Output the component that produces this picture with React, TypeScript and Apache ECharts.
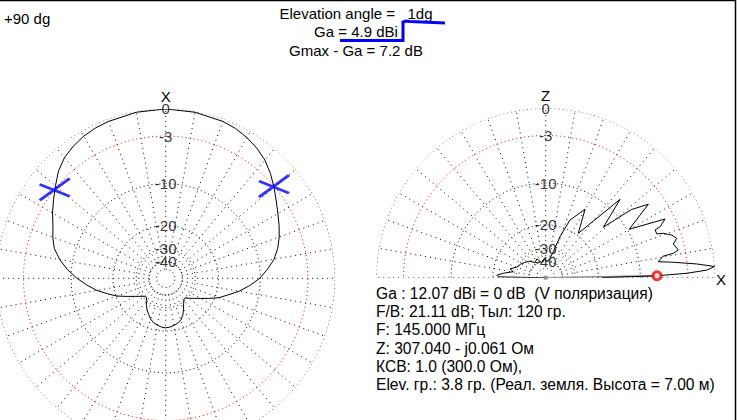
import React, { useEffect, useRef } from "react";
import * as echarts from "echarts";

// Ring levels (dB) of the ARRL log scale and their labels
const RING_DB = [0, -3, -10, -20, -30, -40, -50];
const RING_LABELS = ["0", "-3", "-10", "-20", "-30", "-40", ""];
// Spokes every 10 degrees, drawn from the -40 dB ring outwards
const SPOKE_STEP = 10;
const SPOKE_INNER_DB = -40;

// Azimuth pattern (angle clockwise from X, dB)
const AZ_ANGLES = [0, 10, 20, 25, 30, 35, 40, 45, 50, 55, 60, 65, 70, 75, 80, 85, 90, 95, 100, 105, 110, 115, 120, 125, 130, 135, 140, 145, 150, 155, 160, 165, 170, 175, 180,
  185, 190, 195, 200, 205, 210, 215, 220, 225, 230, 235, 240, 245, 250, 255, 260, 265, 270, 275, 280, 285, 290, 295, 300, 305, 310, 315, 320, 325, 330, 335, 340, 350, 360];
const AZ_DB = [0, -0.08, -0.25, -0.42, -0.72, -1.1, -1.6, -2.3, -3.1, -3.9, -4.6, -5.2, -5.8, -6.5, -7.4, -8.7, -10.1, -12.0, -14.1, -16.6, -18.8, -21.8, -24.7, -27.1, -29.1, -31.2, -30.8, -29.0, -26.8, -24.5, -23.0, -22.2, -21.7, -21.3, -21.1,
  -21.3, -21.8, -22.3, -23.3, -24.7, -26.1, -27.8, -29.6, -31.6, -30.9, -28.9, -26.5, -23.6, -20.3, -17.8, -15.2, -13.1, -11.1, -9.3, -7.8, -6.6, -5.9, -5.3, -4.45, -3.65, -2.8, -1.9, -1.25, -0.85, -0.55, -0.35, -0.25, -0.08, 0];

// -3 dB markers on the azimuth pattern
const MARK_AZ = [49.6, 308.7];
const MARK_DB = [-3, -3];

// Elevation pattern (elevation angle, dB)
const EL_ANGLES = [0, 1, 1.8, 2.7, 3.8, 5.2, 6.9, 8.1, 10.4, 10.8, 11.8, 14.8, 16.7, 18.7, 20.7, 21.5, 23.6, 24.0, 26.2, 30.1, 35.6, 38.5, 41.2, 46.5, 53.7, 60.1, 67.2, 70.8, 73.7, 77.5,
  85, 95, 105, 115, 125, 135, 145, 152, 160, 166, 169.5, 174, 177, 179, 180];
const EL_DB = [-18.9, -7.2, -3.1, -0.85, 0, -1.9, -4.74, -6.85, -6.0, -4.55, -3.83, -4.28, -3.67, -4.15, -5.12, -6.0, -6.0, -5.19, -4.15, -9.64, -5.05, -7.5, -13.6, -7.72, -19.3, -13.1, -17.1, -23.4, -31.4, -36.8,
  -40, -38, -41, -36, -38, -34, -32, -30.5, -29.3, -26.2, -28.1, -23.7, -21.3, -21.9, -99];

// Chosen elevation and its relative level
const GA_ELEV = 1;
const GA_REL_DB = -7.2;

const HEADER_LINES = ["Elevation angle =   1dg", "Ga = 4.9 dBi", "Gmax - Ga = 7.2 dB"];
const INFO_LINES = [
  "Ga : 12.07 dBi = 0 dB  (V поляризация)",
  "F/B: 21.11 dB; Тыл: 120 гр.",
  "F: 145.000 МГц",
  "Z: 307.040 - j0.061 Ом",
  "КСВ: 1.0 (300.0 Ом),",
  "Elev. гр.: 3.8 гр. (Реал. земля. Высота = 7.00 м)",
];

const toR = (db: number) => Math.pow(0.89, -db / 2);
const FONT = '"Liberation Sans", Arial, sans-serif';
const FS = 15;
const FS_INFO = 15.6;

export default function App() {
  const ref = useRef<HTMLDivElement>(null);
  useEffect(() => {
    document.body.style.margin = "0";
    const chart = echarts.init(ref.current!, null, { renderer: "svg" });
    const R = 169.4;
    const C0 = [165.7, 278.3];
    const C1 = [545.7, 277.7];

    const gridSeries: any[] = [];
    const fullAngles: number[] = [];
    for (let a = 0; a <= 360; a += 2) fullAngles.push(a);
    const halfAngles = fullAngles.filter((a) => a <= 180);
    [0, 1].forEach((pi) => {
      const angs = pi === 0 ? fullAngles : halfAngles;
      const maxA = pi === 0 ? 350 : 180;
      for (let a = 0; a <= maxA; a += SPOKE_STEP) {
        gridSeries.push({
          type: "line",
          coordinateSystem: "polar",
          polarIndex: pi,
          silent: true,
          symbol: "none",
          z: 1,
          lineStyle: { color: "#000000", width: 1, type: [1, 4] },
          data: [[toR(SPOKE_INNER_DB), a], [1, a]],
        });
      }
      RING_DB.forEach((db) => {
        gridSeries.push({
          type: "line",
          coordinateSystem: "polar",
          polarIndex: pi,
          silent: true,
          symbol: "none",
          z: 1,
          lineStyle: { color: db === -3 ? "#ff0000" : "#000000", width: 1, type: [1, 3] },
          data: angs.map((a) => [toR(db), a]),
        });
      });
      gridSeries.push({
        type: "scatter",
        coordinateSystem: "polar",
        polarIndex: pi,
        silent: true,
        symbolSize: 1,
        itemStyle: { color: "rgba(0,0,0,0)" },
        z: 3,
        label: {
          show: true,
          position: "inside",
          formatter: (p: any) => RING_LABELS[p.dataIndex],
          color: "#000",
          fontSize: FS,
          fontFamily: FONT,
        },
        data: RING_DB.map((db) => [toR(db), pi === 0 ? 0 : 90]),
      });
    });

    const axisCommon = {
      axisLine: { show: false },
      axisTick: { show: false },
      axisLabel: { show: false },
      splitLine: { show: false },
    };

    const textEl = (text: string, x: number, y: number, align = "left", size = FS) => ({
      type: "text",
      x,
      y,
      silent: true,
      style: { text, fill: "#000", font: `${size}px ${FONT}`, textAlign: align, textVerticalAlign: "middle" },
    });

    const option: any = {
      animation: false,
      backgroundColor: "#ffffff",
      polar: [
        { center: C0, radius: R },
        { center: C1, radius: R },
      ],
      angleAxis: [
        { polarIndex: 0, type: "value", min: 0, max: 360, interval: 10, startAngle: 90, clockwise: true, ...axisCommon },
        { polarIndex: 1, type: "value", min: 0, max: 180, interval: 10, startAngle: 0, endAngle: 180, clockwise: false, ...axisCommon },
      ],
      radiusAxis: [
        { polarIndex: 0, type: "value", min: 0, max: 1, ...axisCommon },
        { polarIndex: 1, type: "value", min: 0, max: 1, ...axisCommon },
      ],
      series: [
        ...gridSeries,
        {
          type: "line",
          coordinateSystem: "polar",
          polarIndex: 0,
          symbol: "none",
          z: 4,
          lineStyle: { color: "#000", width: 1 },
          data: AZ_ANGLES.map((a, i) => [toR(AZ_DB[i]), a]),
        },
        {
          type: "scatter",
          coordinateSystem: "polar",
          polarIndex: 0,
          z: 6,
          symbol: "path://M0,6 L30,18 M0,22 L30,0",
          symbolSize: [30, 22],
          itemStyle: { color: "rgba(0,0,0,0)", borderColor: "#0000ff", borderWidth: 3 },
          data: MARK_AZ.map((a, i) => [toR(MARK_DB[i]), a]),
        },
        {
          type: "line",
          coordinateSystem: "polar",
          polarIndex: 1,
          symbol: "none",
          z: 4,
          lineStyle: { color: "#808080", width: 1.5 },
          data: [[0, GA_ELEV], [toR(GA_REL_DB), GA_ELEV]],
        },
        {
          type: "scatter",
          coordinateSystem: "polar",
          polarIndex: 1,
          symbol: "rect",
          symbolSize: 4,
          z: 5,
          itemStyle: { color: "#808080" },
          data: [[0, GA_ELEV]],
        },
        {
          type: "line",
          coordinateSystem: "polar",
          polarIndex: 1,
          symbol: "none",
          z: 5,
          lineStyle: { color: "#000", width: 1 },
          data: EL_ANGLES.map((a, i) => [toR(EL_DB[i]), a]),
        },
        {
          type: "scatter",
          coordinateSystem: "polar",
          polarIndex: 1,
          symbol: "circle",
          symbolSize: 8,
          z: 6,
          itemStyle: { color: "#ffffff", borderColor: "#ff0000", borderWidth: 3 },
          data: [[toR(GA_REL_DB), GA_ELEV]],
        },
      ],
      graphic: [
        { type: "line", silent: true, shape: { x1: 0, y1: 0.5, x2: 736, y2: 0.5 }, style: { stroke: "#000", lineWidth: 1.5 } },
        { type: "line", silent: true, shape: { x1: 735.5, y1: 0, x2: 735.5, y2: 420 }, style: { stroke: "#000", lineWidth: 1.5 } },
        textEl("+90 dg", 4, 18),
        textEl(HEADER_LINES[0], 356, 13, "center"),
        textEl(HEADER_LINES[1], 356, 31, "center"),
        textEl(HEADER_LINES[2], 356, 50, "center"),
        {
          type: "polyline",
          silent: true,
          shape: { points: [[340, 40.5], [403, 40.5], [403, 22], [406, 21], [410, 21.5], [445, 23]] },
          style: { stroke: "#0000ff", lineWidth: 3, fill: null },
        },
        textEl("X", C0[0], 96, "center"),
        textEl("Z", C1[0], 95, "center"),
        textEl("X", 721, 279, "center"),
        ...INFO_LINES.map((t, i) => textEl(t, 376, 293.3 + i * 18.3, "left", FS_INFO)),
      ],
    };
    chart.setOption(option);
    return () => chart.dispose();
  }, []);
  return (
    <div
      ref={ref}
      style={{ position: "absolute", left: 0, top: 0, width: 737, height: 420, background: "#fff" }}
    />
  );
}
